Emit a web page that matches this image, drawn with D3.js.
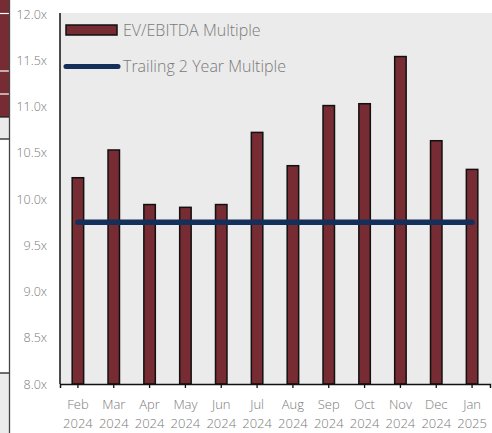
<!DOCTYPE html>
<html><head><meta charset="utf-8">
<script src="https://cdn.jsdelivr.net/npm/d3@7"></script>
<style>body{margin:0;background:#fff}svg{display:block}text{font-family:"Open Sans",sans-serif;font-weight:300}</style>
</head><body>
<svg id="c" width="492" height="433"></svg>
<script>
const months = ["Feb","Mar","Apr","May","Jun","Jul","Aug","Sep","Oct","Nov","Dec","Jan"];
const years = ["2024","2024","2024","2024","2024","2024","2024","2024","2024","2024","2024","2025"];
const evEbitda = [10.23,10.53,9.94,9.91,9.94,10.72,10.36,11.01,11.03,11.54,10.63,10.32];
const trailing = [9.75,9.75,9.75,9.75,9.75,9.75,9.75,9.75,9.75,9.75,9.75,9.75];
const yTicks = [8,8.5,9,9.5,10,10.5,11,11.5,12];
const seriesNames = ["EV/EBITDA Multiple","Trailing 2 Year Multiple"];

const svg = d3.select("#c");
const barColor = "#772b33", lineColor = "#14305a", txt = "#7a7a7a";

// cropped fragment at left edge
const frag = svg.append("g");
frag.append("rect").attr("x",0).attr("y",0).attr("width",9).attr("height",117).attr("fill",barColor);
[13.5,71,94].forEach(y=>frag.append("line").attr("x1",0).attr("x2",9).attr("y1",y).attr("y2",y).attr("stroke","#fff").attr("stroke-width",1.2));
frag.append("rect").attr("x",0).attr("y",117).attr("width",9).attr("height",22).attr("fill","#ebebeb");
frag.append("rect").attr("x",0).attr("y",373).attr("width",9).attr("height",60).attr("fill","#ebebeb");
[117,139,373].forEach(y=>frag.append("line").attr("x1",0).attr("x2",9).attr("y1",y).attr("y2",y).attr("stroke","#222").attr("stroke-width",1.3));
frag.append("line").attr("x1",9.5).attr("x2",9.5).attr("y1",0).attr("y2",433).attr("stroke","#444").attr("stroke-width",1.3);

const L = 60, R = 490, T = 14, B = 384;
svg.append("rect").attr("x",L).attr("y",13).attr("width",492-L).attr("height",B-13).attr("fill","#ebebeb");

const x = d3.scaleBand().domain(d3.range(months.length)).range([L,R]).paddingInner(0.68).paddingOuter(0.34);
const y = d3.scaleLinear().domain([8,12]).range([B,T]);

// bars
svg.append("g").selectAll("rect").data(evEbitda).join("rect")
  .attr("x",(d,i)=>x(i)).attr("y",d=>y(d)).attr("width",x.bandwidth()).attr("height",d=>B-y(d))
  .attr("fill",barColor).attr("stroke","#111").attr("stroke-width",1.5);

// trailing line
const line = d3.line().x((d,i)=>x(i)+x.bandwidth()/2).y(d=>y(d));
svg.append("path").datum(trailing).attr("d",line).attr("fill","none")
  .attr("stroke",lineColor).attr("stroke-width",5.5).attr("stroke-linecap","round");

// y axis
const ya = svg.append("g").attr("transform",`translate(${L},0)`)
  .call(d3.axisLeft(y).tickValues(yTicks).tickSize(0).tickPadding(13).tickFormat(d=>d3.format(".1f")(d)+"x"));
ya.select(".domain").attr("d",`M0,13V${B}`).attr("stroke","#111").attr("stroke-width",1.5);
ya.selectAll("text").attr("fill",txt).attr("font-size",12.5);

// x axis
const xa = svg.append("g").attr("transform",`translate(0,${B})`)
  .call(d3.axisBottom(x).tickSizeInner(4).tickSizeOuter(4).tickFormat(()=>""));
xa.select(".domain").attr("stroke","#111").attr("stroke-width",1.5);
xa.selectAll(".tick line").attr("stroke","#111").attr("stroke-width",1.3);
xa.selectAll(".tick").each(function(d){
  const t = d3.select(this).select("text").text(null).attr("fill",txt).attr("font-size",13).attr("y",0).attr("dy",null);
  t.append("tspan").attr("x",0).attr("y",25).text(months[d]);
  t.append("tspan").attr("x",0).attr("y",44).text(years[d]);
});

// legend
const lg = svg.append("g");
lg.append("rect").attr("x",66).attr("y",25).attr("width",51).attr("height",10)
  .attr("fill",barColor).attr("stroke","#111").attr("stroke-width",1.5);
lg.append("text").attr("x",123).attr("y",30).attr("dy","0.35em").attr("font-size",16).attr("fill",txt).text(seriesNames[0]);
lg.append("line").attr("x1",66).attr("x2",118).attr("y1",66.5).attr("y2",66.5)
  .attr("stroke",lineColor).attr("stroke-width",5).attr("stroke-linecap","round");
lg.append("text").attr("x",123).attr("y",66).attr("dy","0.35em").attr("font-size",16).attr("fill",txt).text(seriesNames[1]);
</script>
</body></html>
